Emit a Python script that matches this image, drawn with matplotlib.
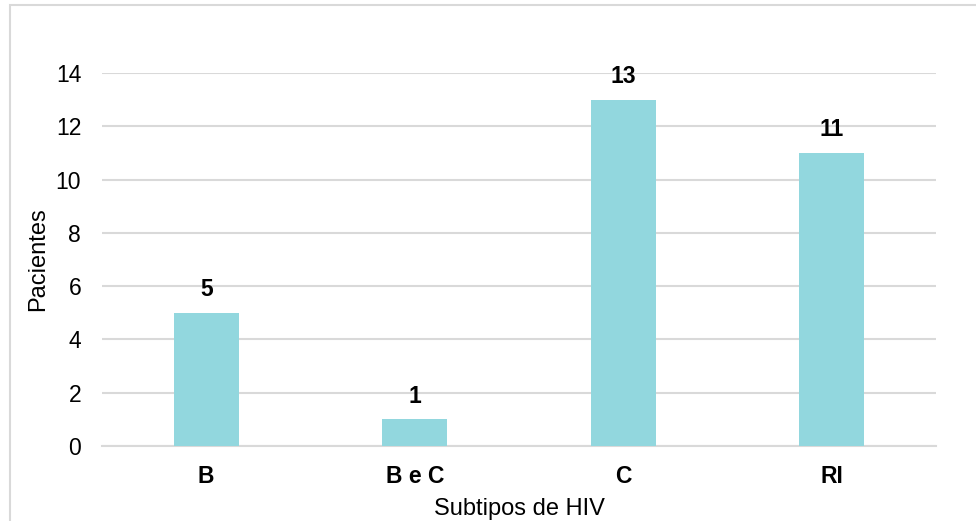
import matplotlib.pyplot as plt
from matplotlib.patches import Rectangle
import numpy as np

plt.rcParams['font.family'] = ['Liberation Sans', 'DejaVu Sans']

subtipos = ['B', 'B e C', 'C', 'RI']
pacientes = [5, 1, 13, 11]

fig = plt.figure(figsize=(9.76, 5.21), dpi=100)
ax = fig.add_axes([0.1045, 0.144, 0.8545, 0.716])

x = np.arange(len(subtipos))
bars = ax.bar(x, pacientes, width=0.31, color='#92D7DE', zorder=3)

for rect, v in zip(bars, pacientes):
    ax.annotate(str(v), (rect.get_x() + rect.get_width() / 2, v),
                xytext=(0, 8.5), textcoords='offset points',
                ha='center', va='bottom', fontsize=16.5, fontweight='bold')

ax.set_xlim(-0.5, len(subtipos) - 0.5)
ax.set_ylim(0, 14)
ax.set_yticks(range(0, 15, 2))
ax.set_xticks(x)
ax.set_xticklabels(subtipos, fontsize=16.5, fontweight='bold')
ax.tick_params(axis='y', labelsize=16.5, length=0, pad=15)
ax.tick_params(axis='x', length=0, pad=14)
ax.grid(axis='y', color='#D9D9D9', linewidth=1.5, zorder=0)
ax.set_axisbelow(True)
for s in ['top', 'right', 'left']:
    ax.spines[s].set_visible(False)
ax.spines['bottom'].set_color('#D9D9D9')
ax.spines['bottom'].set_linewidth(1.5)

ax.set_xlabel('Subtipos de HIV', fontsize=17, labelpad=7)
ax.set_ylabel('Pacientes', fontsize=17, labelpad=5)

# moldura cinza clara em volta do gráfico
fig.patches.append(Rectangle((9.5 / 976, -0.05), 1.1, 1 - 4.5 / 521 + 0.05,
                             transform=fig.transFigure, fill=False,
                             edgecolor='#D9D9D9', linewidth=1.5))

fig.savefig('out.png', dpi=100)
